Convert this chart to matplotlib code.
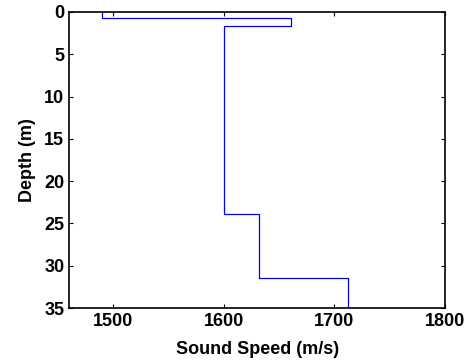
import matplotlib
matplotlib.use("Agg")
import matplotlib.pyplot as plt

# layer boundaries (m) and sound speed in each layer (m/s)
depth_edges = [0, 0.75, 1.65, 23.9, 31.4, 35]
sound_speed = [1490, 1661, 1600, 1632, 1712]

x_ticks = [1500, 1600, 1700, 1800]
y_ticks = [0, 5, 10, 15, 20, 25, 30, 35]

plt.rcParams['font.family'] = ['Liberation Sans', 'DejaVu Sans']
plt.rcParams['font.weight'] = 'bold'

fig = plt.figure(figsize=(4.67, 3.63), dpi=100)
ax = fig.add_axes([0.148, 0.1515, 0.805, 0.8155])

# build step profile
xs, ys = [], []
for i, c in enumerate(sound_speed):
    xs += [c, c]
    ys += [depth_edges[i], depth_edges[i + 1]]
ax.plot(xs, ys, color='blue', lw=0.9)

ax.set_xlim(1460, 1800)
ax.set_ylim(35, 0)
ax.set_xticks(x_ticks)
ax.set_yticks(y_ticks)
ax.tick_params(direction='in', top=True, right=True, labelsize=13, length=3, width=0.8)
for lab in ax.get_xticklabels() + ax.get_yticklabels():
    lab.set_fontweight('bold')
for s in ax.spines.values():
    s.set_linewidth(1.2)

ax.set_xlabel('Sound Speed (m/s)', fontsize=13, fontweight='bold', labelpad=8)
ax.set_ylabel('Depth (m)', fontsize=13, fontweight='bold', labelpad=6)

fig.savefig('out.png', dpi=100)
